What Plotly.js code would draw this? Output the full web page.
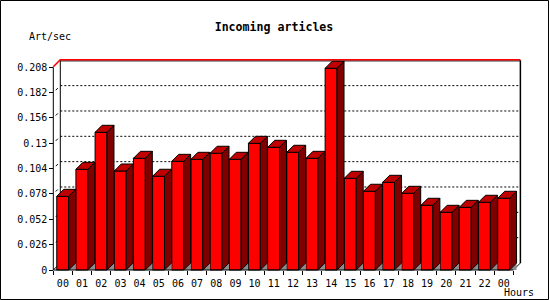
<!DOCTYPE html>
<html>
<head>
<meta charset="utf-8">
<script src="https://cdn.plot.ly/plotly-3.0.1.min.js"></script>
<style>
  html, body { margin: 0; padding: 0; background: #fff; }
  #chart { width: 550px; height: 300px; }
</style>
</head>
<body>
<div id="chart"></div>
<script>
// ---- data ----
const hours = ['00','01','02','03','04','05','06','07','08','09','10','11','12','13','14','15','16','17','18','19','20','21','22','00'];
const artPerSec = [0.0756, 0.1033, 0.1413, 0.1016, 0.1146, 0.0962, 0.1115, 0.1136, 0.1198, 0.1136, 0.1300, 0.1259,
                   0.1208, 0.1146, 0.2070, 0.0941, 0.0808, 0.0900, 0.0787, 0.0664, 0.0592, 0.0643, 0.0695, 0.0736];
const yTickVals = [0, 0.026, 0.052, 0.078, 0.104, 0.13, 0.156, 0.182, 0.208];
const yTickText = ['0', '0.026', '0.052', '0.078', '0.104', '0.13', '0.156', '0.182', '0.208'];
const chartTitle = 'Incoming articles';
const yUnit = 'Art/sec';
const xUnit = 'Hours';

// ---- geometry ----
const W = 550, H = 300;
const ML = 40, MR = 20, MT = 50, MB = 22;
const PW = W - ML - MR, PH = H - MT - MB;
const X0PX = 53.3, SX = 19.17;   // px of category slot 0, px per slot
const Y0PX = 270, SY = 974.5;    // px of value 0, px per unit
const xRange = [(ML - X0PX) / SX, (W - MR - X0PX) / SX];
const yRange = [(Y0PX - (H - MB)) / SY, (Y0PX - MT) / SY];
const DX = 7.0 / SX, DY = 7.0 / SY;        // 3D depth in data units
const BAR_OFF = 0.18, BAR_W = 0.62;
const yMax = yTickVals[yTickVals.length - 1];
const nCat = hours.length;
const pxX = p => (p - ML) / PW;
const pxY = p => (H - MB - p) / PH;

const FONT = 'DejaVu Sans Mono, monospace';

// ---- faces ----
const sideX = [], sideY = [], topX = [], topY = [], floorX = [], floorY = [];
artPerSec.forEach((v, i) => {
  const L = i + BAR_OFF, R = L + BAR_W;
  sideX.push(R, R + DX, R + DX, R, R, null);
  sideY.push(v, v + DY, DY, 0, v, null);
  topX.push(L, L + DX, R + DX, R, L, null);
  topY.push(v, v + DY, v + DY, v, v, null);
  floorX.push(R, R + DX, R + DX, R, null);
  floorY.push(0, DY, 0, 0, null);
});

const traces = [
  {
    type: 'scatter', x: floorX, y: floorY, mode: 'lines', fill: 'toself',
    fillcolor: '#8c8c8c', line: { width: 0, color: '#8c8c8c' }, hoverinfo: 'skip', showlegend: false
  },
  {
    type: 'bar', x: artPerSec.map((_, i) => i + BAR_OFF + BAR_W / 2), y: artPerSec, width: BAR_W,
    marker: { color: '#ff0000', line: { color: '#000', width: 1 } }, showlegend: false,
    hovertext: hours, hoverinfo: 'text+y'
  },
  {
    type: 'scatter', x: sideX, y: sideY, mode: 'lines', fill: 'toself',
    fillcolor: '#800000', line: { width: 1, color: '#000' }, hoverinfo: 'skip', showlegend: false
  },
  {
    type: 'scatter', x: topX, y: topY, mode: 'lines', fill: 'toself',
    fillcolor: '#c00000', line: { width: 1, color: '#000' }, hoverinfo: 'skip', showlegend: false
  },
  // red top edge of the back wall (and its left diagonal)
  {
    type: 'scatter', x: [0, DX, nCat + DX], y: [yMax + 0.6 / SY, yMax + DY + 0.6 / SY, yMax + DY + 0.6 / SY], mode: 'lines',
    line: { width: 1.6, color: '#ff0000' }, hoverinfo: 'skip', showlegend: false
  }
];

// ---- frame / walls / grid ----
const shapes = [];
// gridlines on back wall
yTickVals.slice(1, -1).forEach(t => {
  shapes.push({ type: 'line', xref: 'x', yref: 'y', layer: 'below', x0: DX, x1: nCat + DX, y0: t + DY, y1: t + DY,
    line: { color: '#000', width: 1, dash: '2px,2px' } });
  shapes.push({ type: 'line', xref: 'x', yref: 'y', layer: 'below', x0: DX * 0.35, x1: DX * 0.65, y0: t + DY * 0.35, y1: t + DY * 0.65,
    line: { color: '#000', width: 1 } });
});
// back wall left & right
shapes.push({ type: 'line', xref: 'x', yref: 'y', layer: 'below', x0: DX, x1: DX, y0: DY, y1: yMax + DY, line: { color: '#000', width: 1 } });
shapes.push({ type: 'line', xref: 'x', yref: 'y', layer: 'below', x0: nCat + DX, x1: nCat + DX, y0: DY, y1: yMax + DY, line: { color: '#000', width: 1.5 } });
// back wall bottom diag at right
shapes.push({ type: 'line', xref: 'x', yref: 'y', layer: 'below', x0: nCat, x1: nCat + DX, y0: 0, y1: DY, line: { color: '#000', width: 1 } });
// front left axis line
shapes.push({ type: 'line', xref: 'x', yref: 'y', layer: 'below', x0: 0, x1: 0, y0: 0, y1: yMax, line: { color: '#000', width: 1 } });
// bottom left diag
shapes.push({ type: 'line', xref: 'x', yref: 'y', layer: 'below', x0: 0, x1: DX, y0: 0, y1: DY, line: { color: '#000', width: 1 } });
// front bottom line
shapes.push({ type: 'line', xref: 'x', yref: 'y', layer: 'above', x0: 0, x1: nCat, y0: 0, y1: 0, line: { color: '#000', width: 1 } });
// black line under the red top edge
shapes.push({ type: 'line', xref: 'x', yref: 'y', layer: 'below', x0: DX, x1: nCat + DX, y0: yMax + DY - 0.6 / SY, y1: yMax + DY - 0.6 / SY, line: { color: '#000', width: 1 } });
// outer frame
shapes.push({ type: 'rect', xref: 'paper', yref: 'paper', x0: pxX(0.5), x1: pxX(548.5), y0: pxY(0.5), y1: pxY(299.5),
  line: { color: '#000', width: 1 }, fillcolor: 'rgba(0,0,0,0)' });

const layout = {
  width: W, height: H,
  margin: { l: ML, r: MR, t: MT, b: MB, pad: 0 },
  paper_bgcolor: '#fff', plot_bgcolor: '#fff',
  showlegend: false,
  bargap: 0,
  title: {
    text: chartTitle, xref: 'container', yref: 'container', x: 274 / W, y: 1 - 27 / H,
    xanchor: 'center', yanchor: 'middle',
    font: { family: FONT, size: 11.6, weight: 'bold', color: '#000' }
  },
  xaxis: {
    range: xRange, anchor: 'free', position: pxY(Y0PX),
    tickmode: 'array', tickvals: hours.map((_, i) => i + 0.5), ticktext: hours,
    ticks: 'outside', ticklen: 4, tickcolor: 'rgba(0,0,0,0)',
    showgrid: false, zeroline: false, showline: false,
    tickfont: { family: FONT, size: 10, color: '#000' },
    minor: { tickmode: 'linear', tick0: 0, dtick: 1, ticks: 'outside', ticklen: 4, tickcolor: '#000', tickwidth: 1, showgrid: false },
    fixedrange: true
  },
  yaxis: {
    range: yRange, anchor: 'free', position: pxX(X0PX),
    tickmode: 'array', tickvals: yTickVals, ticktext: yTickText,
    ticks: 'outside', ticklen: 4, tickcolor: '#000', tickwidth: 1,
    showgrid: false, zeroline: false, showline: false,
    tickfont: { family: FONT, size: 10, color: '#000' },
    fixedrange: true
  },
  shapes: shapes,
  annotations: [
    { text: yUnit, xref: 'paper', yref: 'paper', x: pxX(50), y: pxY(37), xanchor: 'center', yanchor: 'middle',
      showarrow: false, font: { family: FONT, size: 10, color: '#000' } },
    { text: xUnit, xref: 'paper', yref: 'paper', x: pxX(519), y: pxY(292), xanchor: 'center', yanchor: 'middle',
      showarrow: false, font: { family: FONT, size: 10, color: '#000' } }
  ]
};

Plotly.newPlot('chart', traces, layout, { displayModeBar: false, staticPlot: true });
</script>
</body>
</html>
